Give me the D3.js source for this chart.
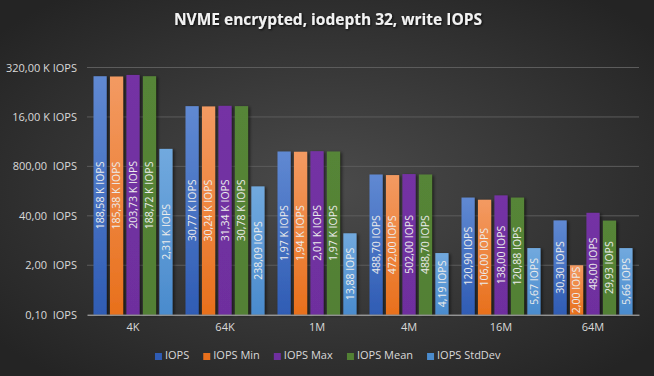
<!DOCTYPE html>
<html>
<head>
<meta charset="utf-8">
<script src="https://cdnjs.cloudflare.com/ajax/libs/d3/7.8.5/d3.min.js"></script>
<style>
  body { margin: 0; background: #333; }
  text { font-family: "Open Sans", "Noto Sans", sans-serif; }
</style>
</head>
<body>
<div id="chart-area"></div>
<script>
// data
var categories = ["4K", "64K", "1M", "4M", "16M", "64M"];
var seriesNames = ["IOPS", "IOPS Min", "IOPS Max", "IOPS Mean", "IOPS StdDev"];
var iops       = [188580, 30770, 1970, 488.70, 120.90, 30.30];
var iopsMin    = [185380, 30240, 1940, 472.00, 106.00, 2.00];
var iopsMax    = [203730, 31340, 2010, 502.00, 138.00, 48.00];
var iopsMean   = [188720, 30780, 1970, 488.70, 120.88, 29.93];
var iopsStdDev = [2310, 238.09, 13.88, 4.19, 5.67, 5.66];
var tickValues = [0.1, 2, 40, 800, 16000, 320000];

var seriesValues = [iops, iopsMin, iopsMax, iopsMean, iopsStdDev];
var colors = [
  ["#6089d2", "#2f5cb4"],
  ["#f39a62", "#e8701c"],
  ["#7432a4", "#6e2f9e"],
  ["#568537", "#528034"],
  ["#71a9de", "#4a8bcd"]
];

var W = 654, H = 376;
var margin = {left: 87, right: 15, top: 67.5, bottom: 61.3};
var width = W - margin.left - margin.right;
var height = H - margin.top - margin.bottom;

var loc = d3.formatLocale({decimal: ",", thousands: ".", grouping: [3], currency: ["", ""]});
var f2 = loc.format(".2f");
function fmt(v) {
  return v >= 1000 ? f2(v / 1000) + " K IOPS" : f2(v) + "  IOPS";
}

var svg = d3.select("#chart-area").append("svg")
  .attr("width", W).attr("height", H);

var defs = svg.append("defs");
var bg = defs.append("radialGradient").attr("id", "bg")
  .attr("cx", "50%").attr("cy", "50%").attr("r", "65%");
bg.append("stop").attr("offset", "0%").attr("stop-color", "#4b4b4b");
bg.append("stop").attr("offset", "100%").attr("stop-color", "#242424");

colors.forEach(function(c, i) {
  var lg = defs.append("linearGradient").attr("id", "grad" + i)
    .attr("x1", 0).attr("y1", 0).attr("x2", 0).attr("y2", 1);
  lg.append("stop").attr("offset", "0%").attr("stop-color", c[0]);
  lg.append("stop").attr("offset", "100%").attr("stop-color", c[1]);
});

var shadow = defs.append("filter").attr("id", "shadow")
  .attr("x", "-50%").attr("y", "-10%").attr("width", "200%").attr("height", "120%");
shadow.append("feDropShadow").attr("dx", 2).attr("dy", 1).attr("stdDeviation", 1.5)
  .attr("flood-color", "#000").attr("flood-opacity", 0.5);

var tshadow = defs.append("filter").attr("id", "tshadow");
tshadow.append("feDropShadow").attr("dx", 1).attr("dy", 1).attr("stdDeviation", 0.8)
  .attr("flood-color", "#000").attr("flood-opacity", 0.8);

svg.append("rect").attr("width", W).attr("height", H).attr("fill", "url(#bg)");

svg.append("text")
  .attr("x", W / 2 + 1)
  .attr("y", 25)
  .attr("text-anchor", "middle")
  .attr("font-size", "15.5px")
  .attr("font-weight", "bold")
  .attr("fill", "#f2f2f2")
  .attr("filter", "url(#tshadow)")
  .text("NVME encrypted, iodepth 32, write IOPS");

var g = svg.append("g")
  .attr("transform", "translate(" + margin.left + "," + margin.top + ")");

var x0 = d3.scaleBand().domain(categories).range([0, width]);
var x1 = d3.scaleBand().domain(seriesNames).range([0, 79]).paddingInner(0.2);
var y = d3.scaleLog().domain([0.1, 320000]).range([height, 0]);

// gridlines
g.append("g").selectAll("line").data(tickValues.slice(1)).enter().append("line")
  .attr("x1", 0).attr("x2", width)
  .attr("y1", d => y(d)).attr("y2", d => y(d))
  .attr("stroke", "#5c5c5c").attr("stroke-width", 1);

var yAxis = g.append("g")
  .call(d3.axisLeft(y).tickValues(tickValues).tickFormat(fmt).tickSize(0).tickPadding(10));
yAxis.select(".domain").remove();
yAxis.selectAll("text")
  .attr("fill", "#d9d9d9").attr("font-size", "11px")
  .style("white-space", "pre");

// bars
var rows = [];
categories.forEach(function(c, ci) {
  seriesNames.forEach(function(s, si) {
    rows.push({cat: c, series: s, si: si, value: seriesValues[si][ci]});
  });
});

var off = (x0.bandwidth() - 79) / 2;
var bars = g.append("g").selectAll("g").data(rows).enter().append("g");

bars.append("rect")
  .attr("x", d => x0(d.cat) + off + x1(d.series))
  .attr("width", x1.bandwidth())
  .attr("y", d => y(d.value))
  .attr("height", d => height - y(d.value))
  .attr("fill", d => "url(#grad" + d.si + ")")
  .attr("filter", "url(#shadow)");

bars.append("text")
  .attr("transform", function(d) {
    var cx = x0(d.cat) + off + x1(d.series) + x1.bandwidth() / 2;
    var cy = (y(d.value) + height) / 2;
    return "translate(" + cx + "," + cy + ") rotate(-90)";
  })
  .attr("text-anchor", "middle")
  .attr("dy", "0.35em")
  .attr("font-size", "10.5px")
  .attr("fill", "#ececec")
  .style("white-space", "pre")
  .text(d => fmt(d.value).replace("  ", " "));

// x axis
var xAxis = g.append("g")
  .attr("transform", "translate(0," + height + ")")
  .call(d3.axisBottom(x0).tickSize(0).tickPadding(9));
xAxis.select(".domain").attr("stroke", "#bfbfbf");
xAxis.selectAll("text").attr("fill", "#d9d9d9").attr("font-size", "11px");

// legend
var legend = svg.append("g");
var lx = 0;
var items = legend.selectAll("g").data(seriesNames).enter().append("g");
items.append("rect")
  .attr("width", 7).attr("height", 7).attr("y", -6)
  .attr("fill", (d, i) => colors[i][1]);
items.append("text")
  .attr("x", 10).attr("font-size", "11px").attr("fill", "#d9d9d9")
  .text(d => d);
items.each(function() {
  d3.select(this).attr("transform", "translate(" + lx + ",0)");
  lx += this.getBBox().width + 14;
});
legend.attr("transform", "translate(" + ((W - (lx - 14)) / 2 + 1) + ",359)");
</script>
</body>
</html>
